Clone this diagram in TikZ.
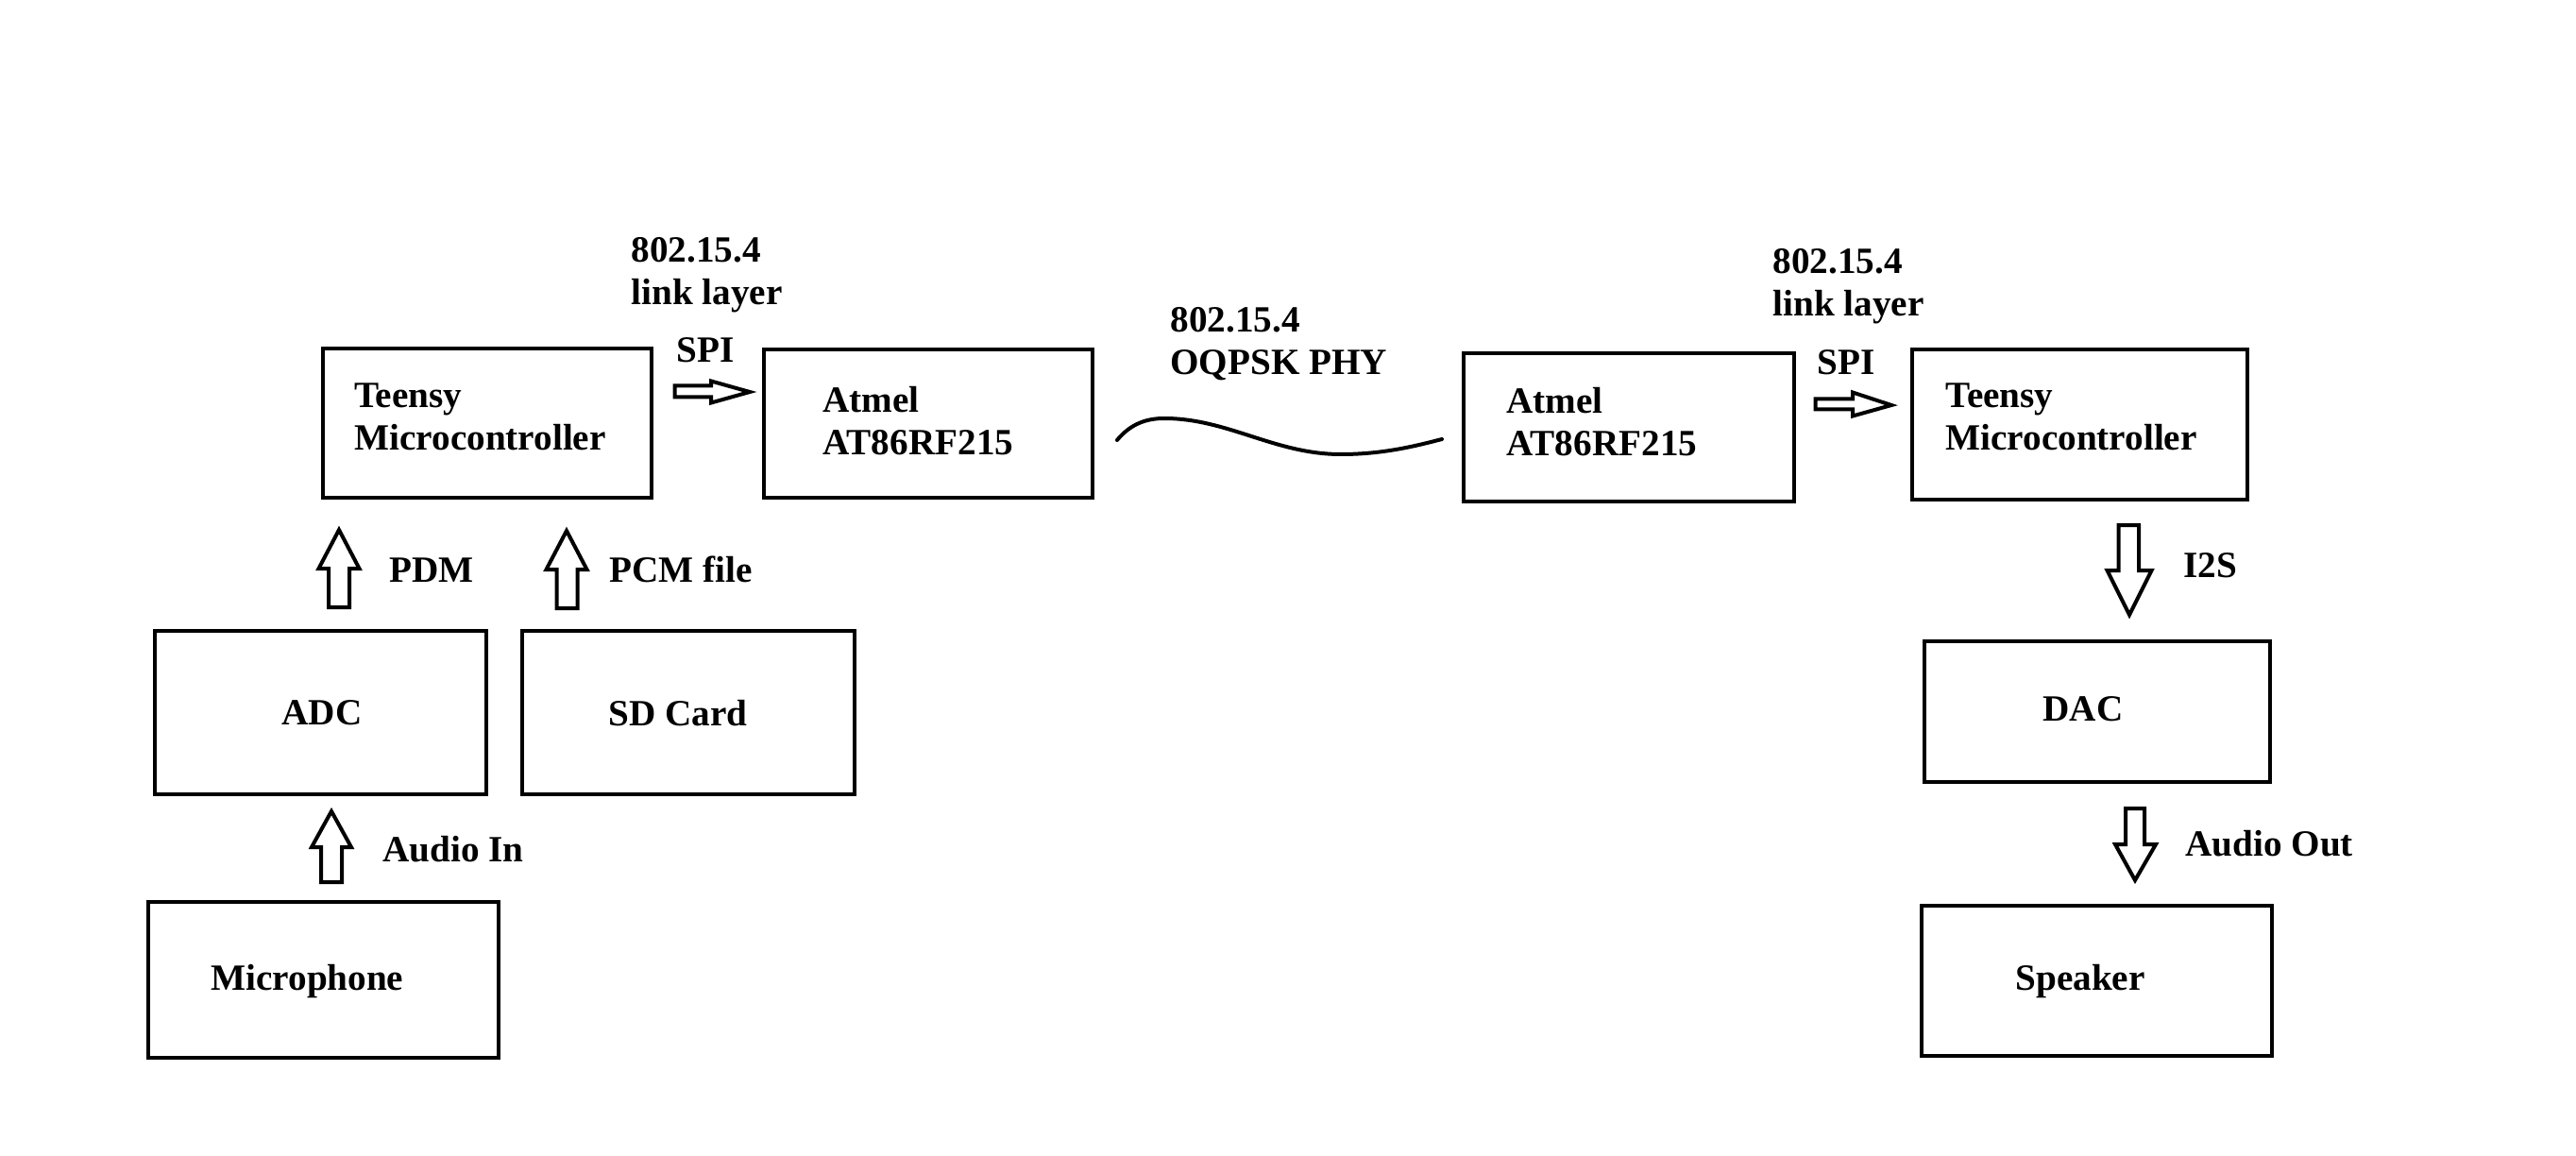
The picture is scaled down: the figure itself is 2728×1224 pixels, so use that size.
\documentclass[tikz,border=0pt]{standalone}
\usepackage{fontspec}
\setmainfont{Liberation Serif}
\begin{document}
\begin{tikzpicture}[x=0.5pt,y=-0.5pt,
  box/.style={draw, rectangle, line width=2.4pt, inner sep=0pt},
  lbl/.style={anchor=base west, inner sep=0pt, align=left, font=\bfseries\fontsize{19.6pt}{22.5pt}\selectfont},
  blk/.style={draw, line width=2pt, line join=miter, fill=white},
  wave/.style={draw, line width=2pt, line cap=round}]
\useasboundingbox[fill=white] (0,0) rectangle (2728,1224);

% boxes
\node[box, minimum width=174pt, minimum height=79pt] (teensyL) at (516,448) {};
\node[box, minimum width=174pt, minimum height=78.5pt] (atmelL) at (983,448.5) {};
\node[box, minimum width=175pt, minimum height=78.5pt] (atmelR) at (1725,452.5) {};
\node[box, minimum width=177.5pt, minimum height=79.5pt] (teensyR) at (2202.5,449.5) {};
\node[box, minimum width=175.5pt, minimum height=86.5pt] (adc) at (339.5,754.5) {};
\node[box, minimum width=176pt, minimum height=86.5pt] (sd) at (729,754.5) {};
\node[box, minimum width=185.5pt, minimum height=82.5pt] (mic) at (342.5,1037.5) {};
\node[box, minimum width=183pt, minimum height=74.5pt] (dac) at (2221,753.5) {};
\node[box, minimum width=185.5pt, minimum height=79.5pt] (spk) at (2220.5,1038.5) {};

% box texts (base anchor = baseline of the last line)
\node[lbl] (tLtxt) at (375,477) {Teensy\\Microcontroller};
\node[lbl] (aLtxt) at (871,481) {Atmel\\AT86RF215};
\node[lbl] (aRtxt) at (1595,483) {Atmel\\AT86RF215};
\node[lbl] (tRtxt) at (2060,477) {Teensy\\Microcontroller};
\node[lbl] (adctxt) at (298,767) {ADC};
\node[lbl] (sdtxt) at (644,768) {SD Card};
\node[lbl] (mictxt) at (223,1048) {Microphone};
\node[lbl] (dactxt) at (2163,763) {DAC};
\node[lbl] (spktxt) at (2134,1048) {Speaker};

% connector labels
\node[lbl] (linkL) at (668,323) {802.15.4\\link layer};
\node[lbl] (spiL) at (716,384) {SPI};
\node[lbl] (phy) at (1239,397) {802.15.4\\OQPSK PHY};
\node[lbl] (linkR) at (1877,335) {802.15.4\\link layer};
\node[lbl] (spiR) at (1924,397) {SPI};
\node[lbl] (pdm) at (412,616) {PDM};
\node[lbl] (pcm) at (645,616) {PCM file};
\node[lbl] (audin) at (405,912) {Audio In};
\node[lbl] (i2s) at (2312,611) {I2S};
\node[lbl] (audout) at (2314,906) {Audio Out};

% block arrows
% PDM (ADC -> Teensy)
\draw[blk] (359,561) -- (380.5,602) -- (370,602) -- (370,643) -- (348,643) -- (348,602) -- (337.5,602) -- cycle;
% PCM file (SD -> Teensy)
\draw[blk] (600,562) -- (621.5,603) -- (611.5,603) -- (611.5,644) -- (589.5,644) -- (589.5,603) -- (578.5,603) -- cycle;
% Audio In (Mic -> ADC)
\draw[blk] (351,859) -- (372,897) -- (362,897) -- (362,934) -- (340,934) -- (340,897) -- (330,897) -- cycle;
% SPI left (Teensy -> Atmel)
\draw[blk] (794,415) -- (753,426.5) -- (753,420.5) -- (714.5,420.5) -- (714.5,408.5) -- (753,408.5) -- (753,403.5) -- cycle;
% SPI right (Atmel -> Teensy)
\draw[blk] (2003,429) -- (1962,440.5) -- (1962,433.5) -- (1922.5,433.5) -- (1922.5,422.5) -- (1962,422.5) -- (1962,415.5) -- cycle;
% I2S (Teensy -> DAC)
\draw[blk] (2255,651) -- (2278.5,604) -- (2265,604) -- (2265,556) -- (2243.5,556) -- (2243.5,604) -- (2231.5,604) -- cycle;
% Audio Out (DAC -> Speaker)
\draw[blk] (2261,932) -- (2283,894) -- (2271,894) -- (2271,856) -- (2251,856) -- (2251,894) -- (2240,894) -- cycle;

% radio link wave
\draw[wave] (1183,466) .. controls (1198,448) and (1215,443) .. (1233,443)
  .. controls (1300,443) and (1350,481) .. (1420,481)
  .. controls (1465,481) and (1500,472) .. (1527,465);
\end{tikzpicture}
\end{document}
